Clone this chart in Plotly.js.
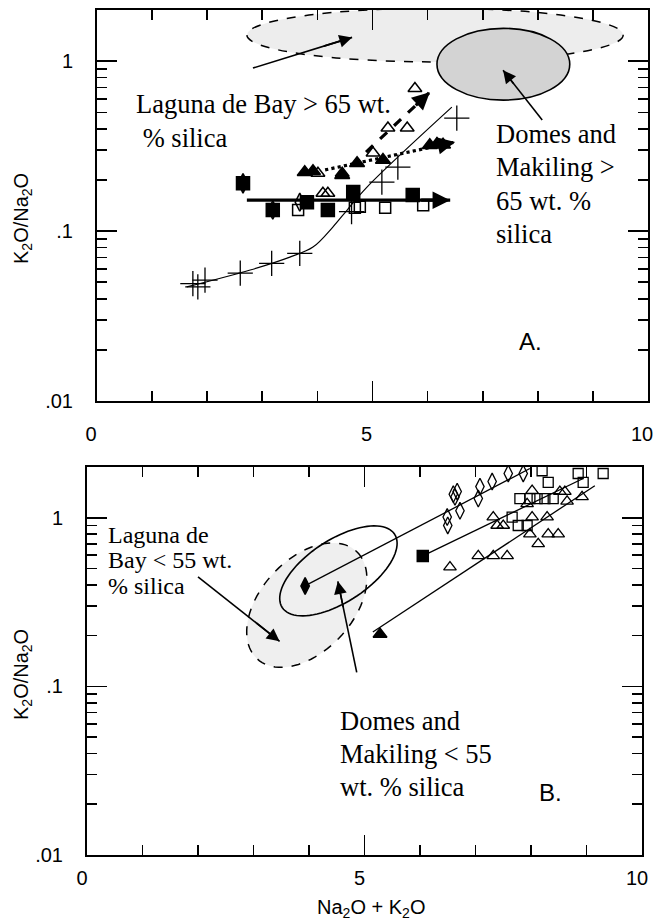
<!DOCTYPE html>
<html>
<head>
<meta charset="utf-8">
<script src="https://cdn.plot.ly/plotly-3.0.1.min.js"></script>
<style>html,body{margin:0;padding:0;background:#fff;}#chart{width:653px;height:921px;}</style>
</head>
<body>
<div id="chart"></div>
<script>
// ---------- Panel A data (Na2O+K2O vs K2O/Na2O) ----------
const aPlusX = [1.74, 1.83, 1.96, 2.60, 3.17, 3.68, 4.62, 5.17, 5.46, 6.53];
const aPlusY = [0.049, 0.047, 0.0515, 0.0566, 0.0646, 0.074, 0.13, 0.194, 0.238, 0.462];
const aCurveX = [1.63, 2.78, 3.50, 3.92, 4.28, 4.54, 4.90, 6.44];
const aCurveY = [0.0469, 0.059, 0.0703, 0.0805, 0.1056, 0.133, 0.1815, 0.536];
const aFSqX = [2.65, 3.19, 3.81, 4.19, 4.65, 5.73];
const aFSqY = [0.191, 0.133, 0.148, 0.133, 0.170, 0.163];
const aOSqX = [3.65, 4.68, 4.77, 5.23, 5.92];
const aOSqY = [0.133, 0.137, 0.139, 0.137, 0.142];
const aODiX = [3.19, 3.68];
const aODiY = [0.133, 0.148];
const aFDiX = [2.65];
const aFDiY = [0.191];
const aOTriX = [4.01, 4.45, 4.10, 4.19, 5.01, 5.28, 5.63, 5.77];
const aOTriY = [0.219, 0.219, 0.167, 0.167, 0.288, 0.404, 0.404, 0.69];
const aFTriX = [3.77, 3.92, 4.45, 4.72, 5.19, 6.04, 6.17, 6.28];
const aFTriY = [0.222, 0.225, 0.213, 0.251, 0.262, 0.32, 0.325, 0.322];
const aSolidX = [2.72, 6.41], aSolidY = [0.152, 0.152];
const aDashX = [4.63, 6.04], aDashY = [0.244, 0.657];
const aDotX = [4.14, 6.50], aDotY = [0.229, 0.334];
const aLagArrowX = [2.83, 4.63], aLagArrowY = [0.91, 1.38];
const aDomArrowX = [8.08, 7.37], aDomArrowY = [0.45, 0.885];
// ellipses in panel A: [x0, x1, y0, y1]
const aEllLaguna = [2.72, 9.55, 0.99, 2.05];
const aEllDomes = [6.17, 8.58, 0.59, 1.56];

// ---------- Panel B data ----------
const bODiX = [6.67, 6.63, 6.60, 6.49, 6.50, 6.72, 7.05, 7.08, 7.30, 7.59, 7.86];
const bODiY = [1.43, 1.33, 1.38, 1.01, 0.90, 1.10, 1.30, 1.53, 1.64, 1.83, 1.83];
const bOSqX = [8.20, 8.31, 8.85, 8.94, 9.30, 7.80, 7.98, 8.11, 8.25, 8.40, 7.66, 7.77, 7.93];
const bOSqY = [1.90, 1.62, 1.83, 1.62, 1.83, 1.30, 1.30, 1.30, 1.30, 1.30, 1.01, 0.90, 0.90];
const bOTriX = [7.32, 7.39, 7.50, 8.02, 7.93, 8.02, 8.29, 8.52, 8.61, 8.65, 8.92, 7.98, 8.13, 8.31, 8.49, 7.05, 7.32, 7.57, 6.54];
const bOTriY = [1.01, 0.90, 0.90, 1.45, 1.21, 1.01, 1.01, 1.43, 1.43, 1.25, 1.33, 0.80, 0.70, 0.80, 0.80, 0.594, 0.594, 0.594, 0.51];
const bFDiX = [3.93], bFDiY = [0.394];
const bFSqX = [6.05], bFSqY = [0.594];
const bFTriX = [5.28], bFTriY = [0.204];
const bDiLineX = [3.96, 7.98], bDiLineY = [0.40, 1.96];
const bSqLineX = [6.05, 8.94], bSqLineY = [0.594, 1.71];
const bTriLineX = [5.15, 9.15], bTriLineY = [0.21, 1.55];
const bLagArrowX = [2.0, 3.47], bLagArrowY = [0.446, 0.185];
const bDomArrowX = [4.86, 4.52], bDomArrowY = [0.121, 0.42];
// rotated ellipses in panel B: centre (x, log10 y), half-axis U, half-axis V (x units, decades)
const bEllLaguna = {c: [3.96, -0.518], u: [0.897, 0.318], v: [0.606, -0.187]};
const bEllDomes = {c: [4.53, -0.315], u: [1.013, 0.217], v: [0.304, -0.155]};

const yTickVals = [0.01, 0.1, 1];
const yTickText = ['.01', '.1', '1'];
const xTickVals = [0, 5, 10];
const xTickText = ['0', '5', '10'];

// ---------- helpers ----------
const W = 653, H = 921;
function minorLogTicks() {
  const v = [];
  [0.01, 0.1, 1].forEach(d => { for (let k = 2; k <= 9; k++) v.push(+(d * k).toPrecision(3)); });
  return v;
}
function ellipsePath(e) {
  let s = '';
  const n = 90;
  for (let i = 0; i <= n; i++) {
    const t = 2 * Math.PI * i / n;
    const x = e.c[0] + Math.cos(t) * e.u[0] + Math.sin(t) * e.v[0];
    const ly = e.c[1] + Math.cos(t) * e.u[1] + Math.sin(t) * e.v[1];
    s += (i === 0 ? 'M' : 'L') + x.toFixed(4) + ',' + Math.pow(10, ly).toFixed(5);
  }
  return s + 'Z';
}
const serif = 'Liberation Serif, Times New Roman, serif';
const sans = 'Liberation Sans, Arial, sans-serif';

function pts(x, y, sym, size, xa, ya, lw) {
  return {x: x, y: y, xaxis: xa, yaxis: ya, mode: 'markers', type: 'scatter', hoverinfo: 'skip',
    marker: {symbol: sym, size: size, color: 'black', line: {color: 'black', width: lw || 1.5}}};
}
function line(x, y, xa, ya, width, dash, shape) {
  return {x: x, y: y, xaxis: xa, yaxis: ya, mode: 'lines', type: 'scatter', hoverinfo: 'skip',
    line: {color: 'black', width: width, dash: dash || 'solid', shape: shape || 'linear', smoothing: 1}};
}
// arrow head as an annotation: tip at the last point, short tail along the shaft
function head(x, y, xa, ya, width, size, frac) {
  const lx0 = x[0], ly0 = Math.log10(y[0]), lx1 = x[1], ly1 = Math.log10(y[1]);
  const f = frac || 0.9;
  return {xref: xa, yref: ya, axref: xa, ayref: ya, x: lx1, y: ly1,
    ax: lx0 + (lx1 - lx0) * f, ay: ly0 + (ly1 - ly0) * f, text: '', showarrow: true,
    arrowhead: 2, arrowsize: size, arrowwidth: width, arrowcolor: 'black', standoff: 0, startstandoff: 0};
}

const traces = [
  // panel A
  line(aCurveX, aCurveY, 'x', 'y', 1.2, 'solid', 'spline'),
  line(aSolidX, aSolidY, 'x', 'y', 3.2),
  line(aDashX, aDashY, 'x', 'y', 3.2, 'dash'),
  line(aDotX, aDotY, 'x', 'y', 3.2, 'dot'),
  line(aLagArrowX, aLagArrowY, 'x', 'y', 1.6),
  line(aDomArrowX, aDomArrowY, 'x', 'y', 1.6),
  pts(aPlusX, aPlusY, 'cross-thin-open', 18, 'x', 'y', 1.3),
  pts(aODiX, aODiY, 'diamond-tall-open', 13, 'x', 'y'),
  pts(aFDiX, aFDiY, 'diamond-tall', 14, 'x', 'y'),
  pts(aFSqX, aFSqY, 'square', 13, 'x', 'y'),
  pts(aOSqX, aOSqY, 'square-open', 11, 'x', 'y'),
  pts(aOTriX, aOTriY, 'triangle-up-open', 12, 'x', 'y'),
  pts(aFTriX, aFTriY, 'triangle-up', 13, 'x', 'y'),
  // panel B
  line(bDiLineX, bDiLineY, 'x2', 'y2', 1.3),
  line(bSqLineX, bSqLineY, 'x2', 'y2', 1.3),
  line(bTriLineX, bTriLineY, 'x2', 'y2', 1.3),
  line(bLagArrowX, bLagArrowY, 'x2', 'y2', 1.6),
  line(bDomArrowX, bDomArrowY, 'x2', 'y2', 1.6),
  pts(bODiX, bODiY, 'diamond-tall-open', 12, 'x2', 'y2', 1.3),
  pts(bOSqX, bOSqY, 'square-open', 10, 'x2', 'y2', 1.3),
  pts(bOTriX, bOTriY, 'triangle-up-open', 11, 'x2', 'y2', 1.3),
  pts(bFDiX, bFDiY, 'diamond-tall', 12, 'x2', 'y2'),
  pts(bFSqX, bFSqY, 'square', 11, 'x2', 'y2'),
  pts(bFTriX, bFTriY, 'triangle-up', 12, 'x2', 'y2')
];

const minorY = minorLogTicks();
function xAxis(domain, anchor, standoff, shift) {
  return {domain: domain, anchor: anchor, range: [0, 10], tickmode: 'array', tickvals: xTickVals, ticktext: xTickText,
    ticks: 'inside', ticklen: 20, tickwidth: 1.6, tickcolor: 'black',
    minor: {tickmode: 'array', tickvals: [1, 2, 3, 4, 6, 7, 8, 9], ticks: 'inside', ticklen: 10, tickwidth: 1.6, tickcolor: 'black'},
    showline: true, linewidth: 2, linecolor: 'black', mirror: 'ticks', showgrid: false, zeroline: false,
    tickfont: {family: sans, size: 20, color: 'black'}, ticklabelstandoff: standoff, ticklabelshift: shift,
    ticklabeloverflow: 'allow', fixedrange: true};
}
function yAxis(domain, anchor, standoff) {
  return {domain: domain, anchor: anchor, type: 'log', range: [-2, Math.log10(2)], tickmode: 'array',
    tickvals: yTickVals, ticktext: yTickText,
    ticks: 'inside', ticklen: 20, tickwidth: 1.6, tickcolor: 'black',
    minor: {tickmode: 'array', tickvals: minorY, ticks: 'inside', ticklen: 10, tickwidth: 1.6, tickcolor: 'black'},
    showline: true, linewidth: 2, linecolor: 'black', mirror: 'ticks', showgrid: false, zeroline: false,
    tickfont: {family: sans, size: 20, color: 'black'}, ticklabelstandoff: standoff,
    ticklabeloverflow: 'allow', fixedrange: true};
}

function P(px, py) { return {x: px / W, y: 1 - py / H}; }
function txt(px, py, text, font, size, xanchor, extra) {
  const p = P(px, py);
  return Object.assign({xref: 'paper', yref: 'paper', x: p.x, y: p.y, text: text, showarrow: false,
    xanchor: xanchor, yanchor: 'middle', align: 'left', font: {family: font, size: size, color: 'black'}}, extra || {});
}

const layout = {
  width: W, height: H, margin: {l: 0, r: 0, t: 0, b: 0}, paper_bgcolor: 'white', plot_bgcolor: 'white',
  showlegend: false,
  xaxis: xAxis([97 / W, 648 / W], 'y', 14, -6),
  yaxis: yAxis([1 - 401 / H, 1 - 10 / H], 'x', 18),
  xaxis2: xAxis([87 / W, 642 / W], 'y2', 4, -5),
  yaxis2: yAxis([1 - 855 / H, 1 - 467 / H], 'x2', 18),
  shapes: [
    {type: 'circle', xref: 'x', yref: 'y', x0: aEllLaguna[0], x1: aEllLaguna[1], y0: aEllLaguna[2], y1: aEllLaguna[3],
      fillcolor: '#ededed', line: {color: 'black', width: 1.5, dash: 'dash'}, layer: 'below'},
    {type: 'circle', xref: 'x', yref: 'y', x0: aEllDomes[0], x1: aEllDomes[1], y0: aEllDomes[2], y1: aEllDomes[3],
      fillcolor: '#d3d3d3', line: {color: 'black', width: 1.6}, layer: 'below'},
    {type: 'path', xref: 'x2', yref: 'y2', path: ellipsePath(bEllLaguna),
      fillcolor: '#efefef', line: {color: 'black', width: 1.5, dash: 'dash'}, layer: 'below'},
    {type: 'path', xref: 'x2', yref: 'y2', path: ellipsePath(bEllDomes),
      fillcolor: 'rgba(0,0,0,0)', line: {color: 'black', width: 1.6}, layer: 'below'}
  ],
  annotations: [
    head(aSolidX, aSolidY, 'x', 'y', 3.2, 1.1, 0.85),
    head(aDashX, aDashY, 'x', 'y', 3.2, 1.1, 0.8),
    head(aDotX, aDotY, 'x', 'y', 3.2, 1.1, 0.85),
    head(aLagArrowX, aLagArrowY, 'x', 'y', 1.6, 1.6, 0.7),
    head(aDomArrowX, aDomArrowY, 'x', 'y', 1.6, 1.6, 0.7),
    head(bLagArrowX, bLagArrowY, 'x2', 'y2', 1.6, 1.6, 0.7),
    head(bDomArrowX, bDomArrowY, 'x2', 'y2', 1.6, 1.6, 0.7),
    txt(134, 104, 'Laguna de Bay &gt; 65 wt.', serif, 26.5, 'left'),
    txt(134, 138, ' % silica', serif, 26.5, 'left'),
    txt(494, 134, 'Domes and', serif, 26.5, 'left'),
    txt(494, 167, 'Makiling &gt;', serif, 26.5, 'left'),
    txt(494, 201, '65 wt. %', serif, 26.5, 'left'),
    txt(494, 234, 'silica', serif, 26.5, 'left'),
    txt(530, 342, 'A.', sans, 24, 'center'),
    txt(106, 535, 'Laguna de', serif, 24, 'left'),
    txt(106, 560, 'Bay &lt; 55 wt.', serif, 24, 'left'),
    txt(106, 586, '% silica', serif, 24, 'left'),
    txt(338, 721, 'Domes and', serif, 26.5, 'left'),
    txt(338, 754, 'Makiling &lt; 55', serif, 26.5, 'left'),
    txt(338, 787, 'wt. % silica', serif, 26.5, 'left'),
    txt(550, 792, 'B.', sans, 24, 'center'),
    txt(371, 908, 'Na<sub>2</sub>O + K<sub>2</sub>O', sans, 20, 'center'),
    txt(22, 219, 'K<sub>2</sub>O/Na<sub>2</sub>O', sans, 20, 'center', {textangle: -90}),
    txt(22, 675, 'K<sub>2</sub>O/Na<sub>2</sub>O', sans, 20, 'center', {textangle: -90})
  ]
};

Plotly.newPlot('chart', traces, layout, {staticPlot: true, displayModeBar: false});
</script>
</body>
</html>
